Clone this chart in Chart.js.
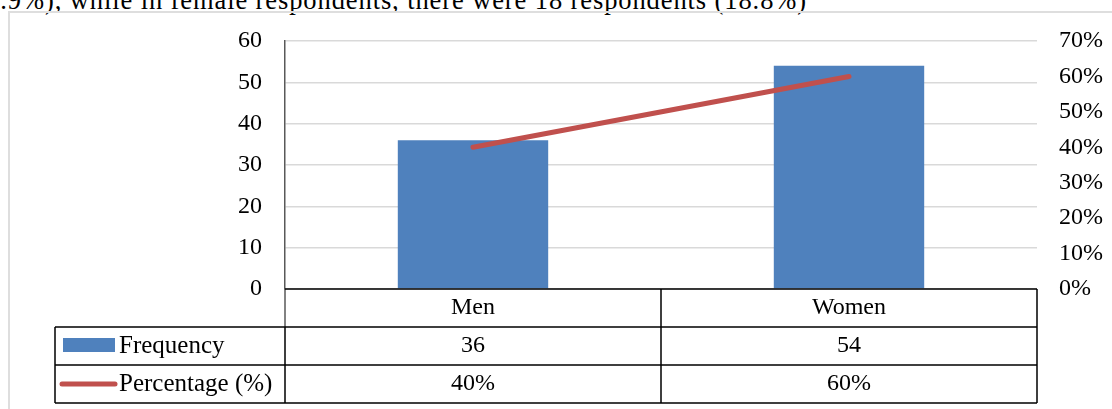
<!DOCTYPE html>
<html>
<head>
<meta charset="utf-8">
<script src="https://cdn.jsdelivr.net/npm/chart.js@4/dist/chart.umd.min.js"></script>
<style>
  html, body { margin: 0; padding: 0; background: #fff; overflow: hidden; }
  body { width: 1112px; height: 409px; position: relative; font-family: "Liberation Serif", serif; }
  #lead { position: absolute; right: 305px; top: -13px; font-size: 26.5px; line-height: 26px; letter-spacing: 0.9px; white-space: nowrap; color: #000; }
  #frame { position: absolute; left: 8px; top: 11px; width: 1200px; height: 500px; border: 2px solid #dedede; }
  #chart { position: absolute; left: 0; top: 0; }
</style>
</head>
<body>
<div id="lead">.9%), while in female respondents, there were 18 respondents (18.8%)</div>
<div id="frame"></div>
<canvas id="chart" width="1112" height="409"></canvas>
<script>
// Gender of respondents: frequency bars (left axis) + percentage line (right axis),
// with an Excel-style data table under the plot.
const categories = ["Men", "Women"];
const frequency = [36, 54];
const percentage = [0.40, 0.60];
const freqTicks = [0, 10, 20, 30, 40, 50, 60];
const pctTicks = [0, 0.1, 0.2, 0.3, 0.4, 0.5, 0.6, 0.7];

const BLUE = "#4f81bd";
const RED = "#c0504d";
const FONT = "24px 'Liberation Serif', serif";

const pct = v => Math.round(v * 100) + "%";

// Data table drawn below the chart area, aligned to the category scale.
const dataTable = {
  id: "dataTable",
  afterDraw(chart) {
    const { ctx, chartArea: a, scales } = chart;
    const xs = scales.x;
    const half = (a.right - a.left) / categories.length / 2;
    const rowH = 38;
    const r0 = a.bottom, r1 = r0 + rowH, r2 = r1 + rowH, r3 = r2 + rowH;
    const legendLeft = 55;

    ctx.save();
    // y axis extended through the category row
    ctx.strokeStyle = "#595959";
    ctx.lineWidth = 1.5;
    ctx.beginPath();
    ctx.moveTo(a.left, a.bottom); ctx.lineTo(a.left, r1);
    ctx.stroke();

    ctx.strokeStyle = "#000";
    ctx.lineWidth = 1.5;
    ctx.beginPath();
    ctx.moveTo(a.left, r0); ctx.lineTo(a.right, r0);
    [r1, r2, r3].forEach(y => { ctx.moveTo(legendLeft, y); ctx.lineTo(a.right, y); });
    ctx.moveTo(legendLeft, r1); ctx.lineTo(legendLeft, r3);
    ctx.moveTo(a.left, r1); ctx.lineTo(a.left, r3);
    categories.forEach((c, i) => {
      const x = xs.getPixelForValue(i) + half;
      ctx.moveTo(x, r0); ctx.lineTo(x, r3);
    });
    ctx.stroke();

    ctx.fillStyle = "#000";
    ctx.font = FONT;
    ctx.textBaseline = "middle";
    ctx.textAlign = "center";
    categories.forEach((c, i) => {
      const cx = xs.getPixelForValue(i);
      ctx.fillText(c, cx, r0 + rowH / 2);
      ctx.fillText(String(frequency[i]), cx, r1 + rowH / 2);
      ctx.fillText(pct(percentage[i]), cx, r2 + rowH / 2);
    });

    // legend keys
    ctx.fillStyle = BLUE;
    ctx.fillRect(63, r1 + rowH / 2 - 8, 52, 14);
    ctx.strokeStyle = RED;
    ctx.lineWidth = 5;
    ctx.lineCap = "round";
    ctx.beginPath();
    ctx.moveTo(62, r2 + rowH / 2); ctx.lineTo(115, r2 + rowH / 2);
    ctx.stroke();

    ctx.fillStyle = "#000";
    ctx.textAlign = "left";
    ctx.font = "25px 'Liberation Serif', serif";
    ctx.fillText("Frequency", 119, r1 + rowH / 2);
    ctx.fillText("Percentage (%)", 119, r2 + rowH / 2);
    ctx.restore();
  }
};

new Chart(document.getElementById("chart"), {
  data: {
    labels: categories,
    datasets: [
      {
        type: "line", label: "Percentage (%)", data: percentage, yAxisID: "y1", order: 0,
        borderColor: RED, borderWidth: 5, borderCapStyle: "round",
        pointRadius: 0, tension: 0, fill: false
      },
      {
        type: "bar", label: "Frequency", data: frequency, yAxisID: "y", order: 1,
        backgroundColor: BLUE, categoryPercentage: 1, barPercentage: 0.4
      }
    ]
  },
  options: {
    responsive: false, animation: false, devicePixelRatio: 1,
    layout: { padding: { top: 41, left: 0, right: 0, bottom: 0 } },
    plugins: { legend: { display: false }, tooltip: { enabled: false } },
    scales: {
      x: {
        grid: { display: false }, border: { display: false },
        ticks: { display: false },
        afterFit: s => { s.height = 120; }
      },
      y: {
        position: "left", min: 0, max: 60,
        afterBuildTicks: s => { s.ticks = freqTicks.map(v => ({ value: v })); },
        afterFit: s => { s.width = 285; },
        grid: { color: "#d9d9d9", lineWidth: 1.5, drawTicks: false },
        border: { color: "#595959", width: 1.5 },
        ticks: { padding: 23, color: "#000", font: { family: "'Liberation Serif', serif", size: 24 } }
      },
      y1: {
        position: "right", min: 0, max: 0.7,
        afterBuildTicks: s => { s.ticks = pctTicks.map(v => ({ value: v })); },
        afterFit: s => { s.width = 75; },
        grid: { display: false, drawTicks: false }, border: { display: false },
        ticks: { padding: 22, color: "#000", callback: v => pct(v),
                 font: { family: "'Liberation Serif', serif", size: 24 } }
      }
    }
  },
  plugins: [dataTable]
});
</script>
</body>
</html>
